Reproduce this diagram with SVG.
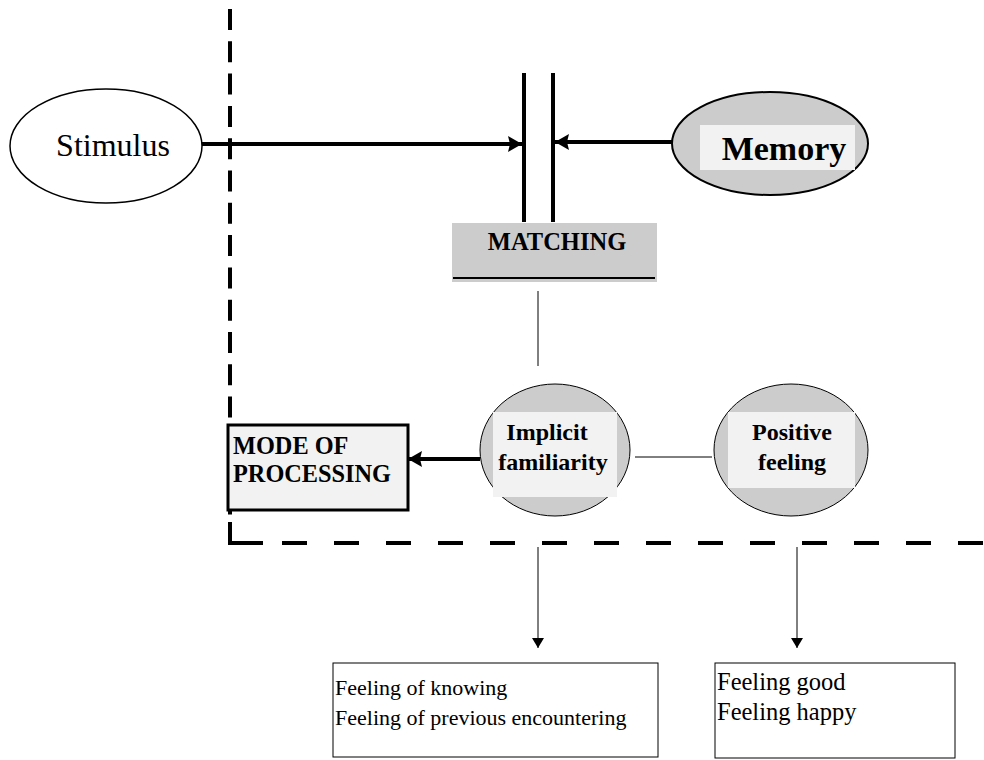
<svg xmlns="http://www.w3.org/2000/svg" width="984" height="760" viewBox="0 0 984 760">
<defs>
<style>
.serif{font-family:"Liberation Serif","Times New Roman",serif;fill:#000}
.b{font-weight:bold}
.thin{stroke:#000;stroke-width:1;fill:none}
.thick{stroke:#000;stroke-width:4;fill:none}
.dash{stroke:#000;stroke-width:4;fill:none}
</style>
<marker id="bigArrow" markerUnits="userSpaceOnUse" markerWidth="16" markerHeight="18" refX="14" refY="9" orient="auto">
<path d="M0,1 L14,9 L0,17 L2,9 Z" fill="#000"/>
</marker>
<marker id="smallArrow" markerUnits="userSpaceOnUse" markerWidth="12" markerHeight="12" refX="10" refY="6" orient="auto">
<path d="M0,0 L10,6 L0,12 Z" fill="#000"/>
</marker>
</defs>
<rect width="984" height="760" fill="#fff"/>

<g id="boundary">
<line class="dash" x1="230" y1="9" x2="230" y2="530" stroke-dasharray="21 11.3"/>
<path class="dash" d="M230,522 L230,543 L263,543"/>
<line class="dash" x1="282" y1="543" x2="984" y2="543" stroke-dasharray="25 27"/>
</g>

<g id="connectors">
<line class="thick" x1="202" y1="144" x2="522" y2="144" stroke-width="3.5" marker-end="url(#bigArrow)"/>
<line class="thick" x1="672" y1="142" x2="555" y2="142" stroke-width="3.5" marker-end="url(#bigArrow)"/>
<line class="thick" x1="524" y1="73" x2="524" y2="222"/>
<line class="thick" x1="553" y1="73" x2="553" y2="222"/>
<line class="thin" x1="538" y1="291" x2="538" y2="366"/>
<line class="thick" x1="480" y1="459" x2="408" y2="459" stroke-width="3.5" marker-end="url(#bigArrow)"/>
<line class="thin" x1="635" y1="457" x2="712" y2="457"/>
<line class="thin" x1="538" y1="547" x2="538" y2="648" marker-end="url(#smallArrow)"/>
<line class="thin" x1="797" y1="547" x2="797" y2="648" marker-end="url(#smallArrow)"/>
</g>

<g id="stimulus">
<ellipse cx="106" cy="146" rx="96" ry="57" fill="#fff" stroke="#000" stroke-width="1.5"/>
<text class="serif" x="113" y="156" font-size="32" text-anchor="middle">Stimulus</text>
</g>

<g id="memory">
<ellipse cx="770" cy="143.5" rx="98" ry="51.5" fill="#cccccc" stroke="#000" stroke-width="2"/>
<rect x="700" y="125" width="155" height="45" fill="#f2f2f2"/>
<text class="serif b" x="784" y="160" font-size="34" text-anchor="middle">Memory</text>
</g>

<g id="matching">
<rect x="452" y="223" width="205" height="59" fill="#cccccc"/>
<line x1="453" y1="278" x2="655" y2="278" stroke="#000" stroke-width="2"/>
<text class="serif b" x="557" y="250" font-size="24.5" text-anchor="middle">MATCHING</text>
</g>

<g id="implicit">
<ellipse cx="555" cy="450" rx="75" ry="66" fill="#cccccc" stroke="#000" stroke-width="1"/>
<rect x="493" y="412" width="124" height="85" fill="#f2f2f2"/>
<text class="serif b" font-size="24" text-anchor="middle"><tspan x="547" y="440">Implicit</tspan><tspan x="553" y="470">familiarity</tspan></text>
</g>

<g id="positive">
<ellipse cx="791" cy="450" rx="77" ry="66" fill="#cccccc" stroke="#000" stroke-width="1"/>
<rect x="728" y="412" width="127" height="76" fill="#f2f2f2"/>
<text class="serif b" font-size="24" text-anchor="middle"><tspan x="792" y="440">Positive</tspan><tspan x="792" y="470">feeling</tspan></text>
</g>

<g id="mode">
<rect x="228" y="425" width="180" height="85" fill="#f2f2f2" stroke="#000" stroke-width="3"/>
<text class="serif b" font-size="24.3"><tspan x="233" y="454">MODE OF</tspan><tspan x="233" y="482">PROCESSING</tspan></text>
</g>

<g id="knowing">
<rect x="333" y="663" width="325" height="94" fill="#fff" stroke="#000" stroke-width="1"/>
<text class="serif" font-size="22"><tspan x="335" y="695">Feeling of knowing</tspan><tspan x="335" y="725">Feeling of previous encountering</tspan></text>
</g>

<g id="good">
<rect x="715" y="663" width="240" height="95" fill="#fff" stroke="#000" stroke-width="1"/>
<text class="serif" font-size="24.5"><tspan x="717" y="690">Feeling good</tspan><tspan x="717" y="720">Feeling happy</tspan></text>
</g>
</svg>
